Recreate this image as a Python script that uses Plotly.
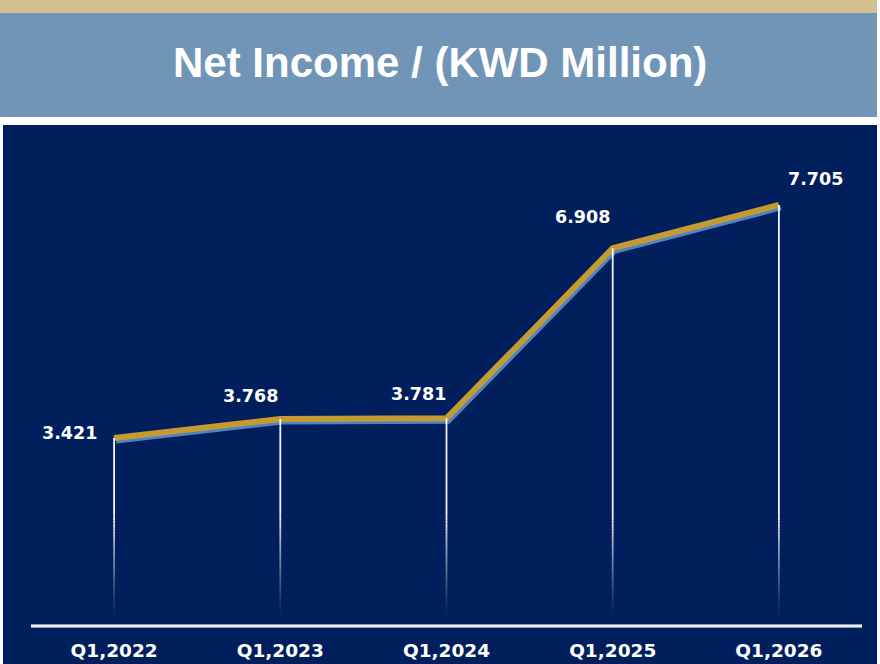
import plotly.graph_objects as go

# ---- data ----
categories = ["Q1,2022", "Q1,2023", "Q1,2024", "Q1,2025", "Q1,2026"]
net_income = [3.421, 3.768, 3.781, 6.908, 7.705]
value_labels = ["3.421", "3.768", "3.781", "6.908", "7.705"]
title_text = "Net Income / (KWD Million)"

W, H = 880, 664
NAVY = "#011F5C"
GOLD = "#C49A32"
SHADOW = "#4F84C4"

def px(x):
    return x / W

def py(y):
    return 1 - y / H

Y_MAX = 8.715
xi = list(range(len(categories)))

fig = go.Figure()

# shadow line (base axes, offset slightly right/down)
fig.add_trace(go.Scatter(
    x=xi, y=net_income, mode="lines",
    line=dict(color=SHADOW, width=5), hoverinfo="skip",
    xaxis="x", yaxis="y", showlegend=False))

# main gold line (second, independent axes drawn on top)
fig.add_trace(go.Scatter(
    x=xi, y=net_income, mode="lines",
    line=dict(color=GOLD, width=6), hoverinfo="skip",
    xaxis="x2", yaxis="y2", showlegend=False))

# drop lines with a fading gradient toward the baseline
N = 40
FADE_TOP = 2.0
for k in range(N):
    y0 = FADE_TOP * k / N
    y1 = FADE_TOP * (k + 1) / N
    mid = (y0 + y1) / 2
    op = max(0.0, min(1.0, (mid - 0.12) / (FADE_TOP - 0.12))) ** 1.2 * 0.95
    xs, ys = [], []
    for i, v in enumerate(net_income):
        xs += [i, i, None]
        ys += [y0, min(y1, v), None]
    fig.add_trace(go.Scatter(x=xs, y=ys, mode="lines",
                             line=dict(color="white", width=1.8),
                             opacity=op, hoverinfo="skip",
                             xaxis="x2", yaxis="y2", showlegend=False))
xs, ys = [], []
for i, v in enumerate(net_income):
    xs += [i, i, None]
    ys += [FADE_TOP, v, None]
fig.add_trace(go.Scatter(x=xs, y=ys, mode="lines",
                         line=dict(color="white", width=1.8),
                         opacity=0.95, hoverinfo="skip",
                         xaxis="x2", yaxis="y2", showlegend=False))

# value labels
label_offsets = [(-45, 5), (-30, 23), (-28, 24), (-30, 31), (37, 26)]
for i, (v, t) in enumerate(zip(net_income, value_labels)):
    dx, dy = label_offsets[i]
    fig.add_annotation(x=i, y=v, xref="x2", yref="y2", text=t,
                       showarrow=False, xshift=dx, yshift=dy,
                       font=dict(family="DejaVu Sans", size=17.5,
                                 color="white", weight="bold"))

# title
fig.add_annotation(x=0.5, y=py(63), xref="paper", yref="paper",
                   text=title_text, showarrow=False,
                   xanchor="center", yanchor="middle",
                   font=dict(family="Liberation Sans", size=42,
                             color="white", weight="bold"))

shapes = [
    dict(type="rect", xref="paper", yref="paper", x0=0, x1=px(877),
         y0=py(13), y1=1, fillcolor="#D5C08F", line_width=0, layer="below"),
    dict(type="rect", xref="paper", yref="paper", x0=0, x1=px(877),
         y0=py(117), y1=py(13), fillcolor="#7195B7", line_width=0, layer="below"),
    dict(type="rect", xref="paper", yref="paper", x0=px(3), x1=px(877),
         y0=0, y1=py(125), fillcolor=NAVY, line_width=0, layer="below"),
    # baseline (double line look)
    dict(type="line", xref="paper", yref="paper", x0=px(31), x1=px(862),
         y0=py(626), y1=py(626), line=dict(color="#B9C3DA", width=3.5), layer="above"),
    dict(type="line", xref="paper", yref="paper", x0=px(31), x1=px(862),
         y0=py(626), y1=py(626), line=dict(color="white", width=1.5), layer="above"),
]

axis_common = dict(showgrid=False, zeroline=False, showline=False, fixedrange=True)

fig.update_layout(
    width=W, height=H,
    margin=dict(l=0, r=0, t=0, b=0),
    paper_bgcolor="white",
    plot_bgcolor="rgba(0,0,0,0)",
    shapes=shapes,
    xaxis=dict(domain=[px(33), px(864)], range=[-0.5, 4.5], anchor="y",
               showticklabels=False, **axis_common),
    yaxis=dict(domain=[py(627), py(153)], range=[0, Y_MAX], anchor="x",
               showticklabels=False, **axis_common),
    xaxis2=dict(domain=[px(31), px(862)], range=[-0.5, 4.5],
                anchor="y2", tickmode="array", tickvals=xi, ticktext=categories,
                ticks="", ticklabelstandoff=13,
                tickfont=dict(family="DejaVu Sans", size=18.5, color="white",
                              weight="bold"),
                **axis_common),
    yaxis2=dict(domain=[py(624), py(150)], range=[0, Y_MAX],
                anchor="x2", showticklabels=False, **axis_common),
    showlegend=False,
)

fig.write_html("out.html",
               config={"displayModeBar": False},
               post_script="document.body.style.margin='0';document.body.style.padding='0';")
